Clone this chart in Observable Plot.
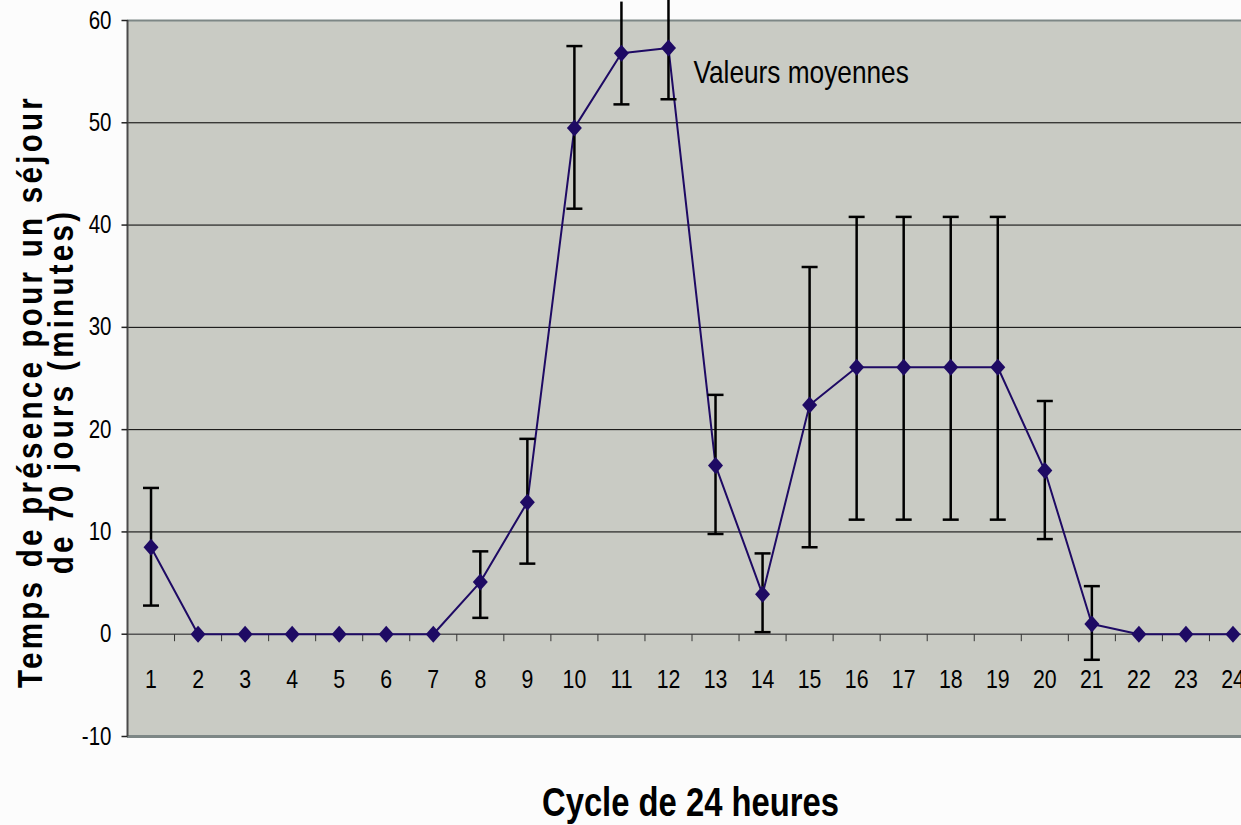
<!DOCTYPE html>
<html><head><meta charset="utf-8">
<script src="https://cdn.jsdelivr.net/npm/d3@7"></script>
<script src="https://cdn.jsdelivr.net/npm/@observablehq/plot@0.6"></script>
<style>
body{margin:0;background:#fcfcfc;}
#chart svg{display:block;}
</style></head><body><div id="chart"></div>
<script>
const hours = d3.range(1, 25);
const means = [8.5, 0, 0, 0, 0, 0, 0, 5.1, 12.9, 49.5, 56.8, 57.3, 16.5, 3.9, 22.4, 26.1, 26.1, 26.1, 26.1, 16.0, 1.0, 0, 0, 0];
const errHours = [1, 8, 9, 10, 11, 12, 13, 14, 15, 16, 17, 18, 19, 20, 21];
const errLow  = [2.8, 1.6, 6.9, 41.6, 51.8, 52.3, 9.8, 0.2, 8.5, 11.2, 11.2, 11.2, 11.2, 9.3, -2.5];
const errHigh = [14.3, 8.1, 19.1, 57.5, 61.8, 62.3, 23.4, 7.9, 35.9, 40.8, 40.8, 40.8, 40.8, 22.8, 4.7];
const yTicks = [-10, 0, 10, 20, 30, 40, 50, 60];
const gridVals = [10, 20, 30, 40, 50];
const axisTicks = d3.range(1.5, 24, 1);
const annotation = "Valeurs moyennes";
const yTitle = "Temps de présence pour un séjour\nde 70 jours (minutes)";
const xTitle = "Cycle de 24 heures";

const font = "'Liberation Sans', Arial, sans-serif";
const lineColor = "#1e0a64";
const xDomain = [0.5, 24.5];
const data = hours.map((h, i) => ({hour: h, mean: means[i]}));
const errs = errHours.map((h, i) => ({hour: h, lo: errLow[i], hi: errHigh[i]}));

const capSym = {draw(ctx) { ctx.moveTo(-8, 0); ctx.lineTo(8, 0); }};
const tickDown = {draw(ctx) { ctx.moveTo(0, 0); ctx.lineTo(0, 7); }};
const tickLeft = {draw(ctx) { ctx.moveTo(0, 0); ctx.lineTo(-6, 0); }};
const diamondSym = {draw(ctx) { ctx.moveTo(0, -8.5); ctx.lineTo(7.5, 0); ctx.lineTo(0, 8.5); ctx.lineTo(-7.5, 0); ctx.closePath(); }};

const svg = Plot.plot({
  width: 1241, height: 825,
  marginLeft: 127, marginRight: 0, marginTop: 20, marginBottom: 89,
  style: {background: "transparent", fontFamily: font, color: "#000", overflow: "visible"},
  x: {domain: xDomain, range: [127, 1256], axis: null},
  y: {domain: [-10, 60], axis: null},
  marks: [
    Plot.frame({fill: "#c9cbc4", stroke: null}),
    Plot.ruleY(gridVals, {stroke: "#000", strokeWidth: 1}),
    Plot.ruleY([0], {stroke: "#555", strokeWidth: 1.5}),
    Plot.ruleY([60], {stroke: "#7d8786", strokeWidth: 2}),
    Plot.ruleY([-10], {stroke: "#7d8786", strokeWidth: 3}),
    Plot.dot(axisTicks, {x: d => d, y: 0, symbol: tickDown, stroke: "#333", strokeWidth: 1, fill: "none"}),
    Plot.ruleX([xDomain[0]], {stroke: "#4a4a4a", strokeWidth: 2}),
    Plot.dot(yTicks, {y: d => d, frameAnchor: "left", symbol: tickLeft, stroke: "#222", strokeWidth: 1.5, fill: "none"}),
    Plot.text(yTicks, {y: d => d, frameAnchor: "left", dx: -16, text: d => String(d), textAnchor: "end", fontSize: 25, fill: "#000"}),
    Plot.text(hours, {x: d => d, y: 0, dy: 45, text: d => String(d), fontSize: 26, fill: "#000"}),
    Plot.line(data, {x: "hour", y: "mean", stroke: lineColor, strokeWidth: 2}),
    Plot.ruleX(errs, {x: "hour", y1: "lo", y2: "hi", stroke: "#000", strokeWidth: 2.5}),
    Plot.dot(errs.filter(d => d.lo >= -10), {x: "hour", y: "lo", symbol: capSym, stroke: "#000", strokeWidth: 2.5, fill: "none"}),
    Plot.dot(errs.filter(d => d.hi <= 60), {x: "hour", y: "hi", symbol: capSym, stroke: "#000", strokeWidth: 2.5, fill: "none"}),
    Plot.dot(data, {x: "hour", y: "mean", symbol: diamondSym, fill: lineColor, stroke: null}),
    Plot.text(data.filter(d => d.hour === 12), {x: "hour", y: "mean", text: () => annotation, dx: 25, dy: 25, textAnchor: "start", fontSize: 32, fill: "#000"}),
    Plot.text([yTitle], {text: d => d, frameAnchor: "left", dx: -80, dy: 13, rotate: -90, textAnchor: "middle", lineAnchor: "middle", lineHeight: 0.85, fontSize: 36, fontWeight: "bold", fill: "#000"}),
    Plot.text([xTitle], {text: d => d, frameAnchor: "bottom", dx: 6, dy: 67, lineAnchor: "middle", fontSize: 40, fontWeight: "bold", fill: "#000"})
  ]
});
// Emulate the condensed (narrow) typeface of the original by compressing glyphs along the text direction
d3.select(svg).selectAll("text").each(function() {
  const t = this.getAttribute("transform");
  if (t) this.setAttribute("transform", t + " scale(0.82,1)");
});
d3.select(svg).selectAll("text").filter(function() { return this.textContent.startsWith("Temps"); }).attr("letter-spacing", 4);
document.getElementById("chart").appendChild(svg);
</script></body></html>
